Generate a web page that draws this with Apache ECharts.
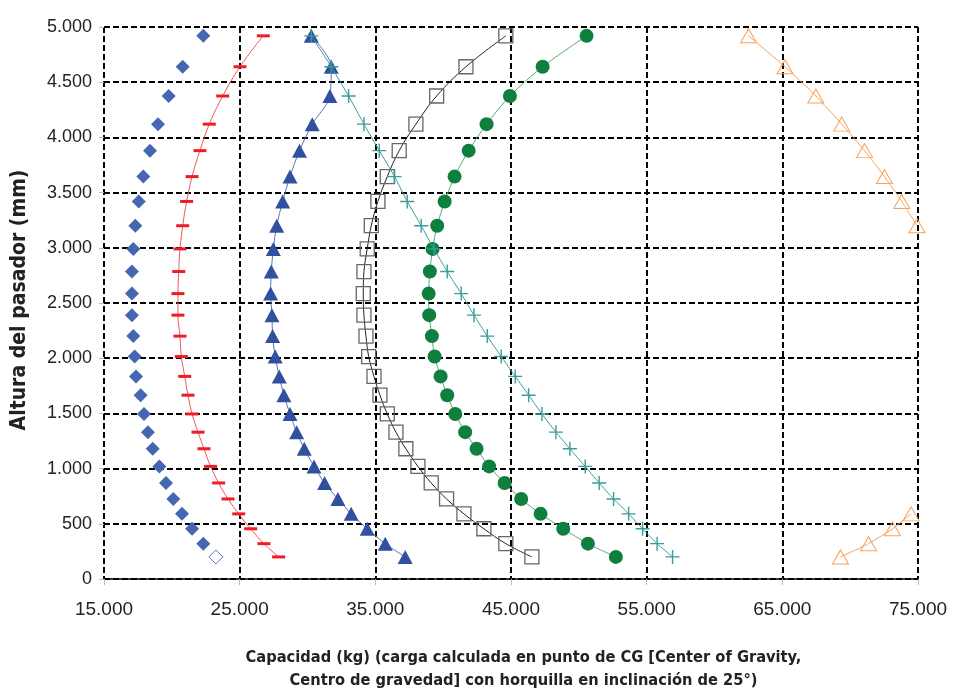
<!DOCTYPE html>
<html>
<head>
<meta charset="utf-8">
<script src="https://cdn.jsdelivr.net/npm/echarts@6/dist/echarts.min.js"></script>
<style>
html,body{margin:0;padding:0;background:#fff;}
#chart{width:962px;height:690px;}
</style>
</head>
<body>
<div id="chart"></div>
<script>
// Heights (mm), bottom to top
const heights = [200, 320, 455, 590, 725, 870, 1020, 1180, 1330, 1495, 1665, 1835, 2015, 2200, 2390, 2585, 2785, 2990, 3200, 3420, 3645, 3880, 4120, 4375, 4640, 4920];

// Capacities (kg) per series, same order as heights
const diamondSeries = [23250, 22320, 21490, 20750, 20110, 19570, 19080, 18590, 18240, 17950, 17700, 17360, 17260, 17160, 17060, 17060, 17060, 17160, 17310, 17560, 17900, 18390, 18980, 19770, 20800, 22320];
const dashSeries = [27870, 26790, 25810, 24930, 24140, 23450, 22860, 22370, 21930, 21490, 21190, 20950, 20700, 20600, 20450, 20450, 20510, 20600, 20800, 21090, 21490, 22070, 22760, 23750, 25020, 26740];
const triangleSeries = [37200, 35730, 34400, 33220, 32240, 31260, 30480, 29760, 29200, 28710, 28260, 27920, 27620, 27430, 27380, 27280, 27330, 27480, 27730, 28170, 28710, 29410, 30350, 31650, 31750, 30280];
const squareSeries = [46540, 44620, 43000, 41530, 40250, 39120, 38140, 37250, 36520, 35880, 35340, 34900, 34510, 34310, 34160, 34110, 34160, 34400, 34700, 35190, 35880, 36760, 37990, 39520, 41680, 44620];
const circleSeries = [52730, 50670, 48850, 47180, 45750, 44530, 43390, 42460, 41620, 40890, 40300, 39810, 39370, 39170, 38970, 38930, 39020, 39220, 39560, 40110, 40840, 41880, 43200, 44920, 47330, 50570];
const plusSeries = [56910, 55770, 54700, 53670, 52560, 51500, 50470, 49340, 48310, 47280, 46300, 45310, 44280, 43250, 42270, 41330, 40300, 39320, 38380, 37350, 36420, 35290, 34160, 33030, 31750, 30280];
// points beyond the 75.000 axis limit are not visible in the picture
const openTriangleSeries = [69290, 71350, 73120, 74490, null, null, null, null, null, null, null, null, null, null, null, null, null, null, 74930, 73800, 72530, 71060, 69380, 67470, 65200, 62510];

const xTicks = { min: 15000, max: 75000, interval: 10000 };
const yTicks = { min: 0, max: 5000, interval: 500 };

function pairs(xs) {
  return xs.map((x, i) => [x == null ? '-' : x, heights[i]]);
}
function fmt(v) {
  const s = String(Math.round(v));
  return s.replace(/\B(?=(\d{3})+(?!\d))/g, '.');
}

const chart = echarts.init(document.getElementById('chart'), null, { renderer: 'canvas' });

const gridLine = { show: true, lineStyle: { color: '#000', width: 2, type: [6, 3] } };
const labelFont = "'Liberation Sans', Arial, sans-serif";
const titleFont = "'DejaVu Sans Condensed', 'Liberation Sans', sans-serif";

const diamondData = pairs(diamondSeries).map((p, i) => i === 0 ? {
  value: p,
  itemStyle: { color: 'rgba(255,255,255,0)', borderColor: '#5a78c0', borderWidth: 1 }
} : p);

const option = {
  animation: false,
  backgroundColor: '#fff',
  grid: { left: 104, right: 44, top: 27, bottom: 111, containLabel: false, outerBoundsMode: 'none' },
  xAxis: {
    type: 'value',
    min: xTicks.min, max: xTicks.max, interval: xTicks.interval,
    axisLine: { show: true, onZero: false, lineStyle: { color: '#000', width: 1.5 } },
    axisTick: { show: true, length: 6, lineStyle: { color: '#bbb', width: 1 } },
    axisLabel: { formatter: fmt, fontFamily: labelFont, fontSize: 19, color: '#222', margin: 21 },
    splitLine: gridLine,
    name: 'Capacidad (kg) (carga calculada en punto de CG [Center of Gravity,\nCentro de gravedad] con horquilla en inclinación de 25°)',
    nameLocation: 'middle',
    nameGap: 67,
    nameTextStyle: {
      fontFamily: titleFont,
      fontWeight: 'bold', fontSize: 16.3, color: '#222', lineHeight: 23,
      align: 'center', padding: [0, 0, 0, 25]
    }
  },
  yAxis: {
    type: 'value',
    min: yTicks.min, max: yTicks.max, interval: yTicks.interval,
    axisLine: { show: false },
    axisTick: { show: true, length: 5, lineStyle: { color: '#bbb', width: 1 } },
    axisLabel: { formatter: fmt, fontFamily: labelFont, fontSize: 18, color: '#222', margin: 12 },
    splitLine: gridLine,
    name: 'Altura del pasador (mm)',
    nameLocation: 'middle',
    nameGap: 74,
    nameRotate: 90,
    nameTextStyle: { fontFamily: titleFont, fontWeight: 'bold', fontSize: 21, color: '#222', padding: [0, 0, 0, 6] }
  },
  series: [
    {
      type: 'scatter', name: 'diamantes',
      data: diamondData,
      symbol: 'diamond', symbolSize: 14,
      itemStyle: { color: '#4567b1', opacity: 1 },
      z: 3
    },
    {
      type: 'line', name: 'guiones',
      data: pairs(dashSeries), smooth: 0.4,
      symbol: 'rect', symbolSize: [13, 3], showAllSymbol: true,
      itemStyle: { color: '#ee1c25' },
      lineStyle: { color: '#f2545a', width: 1 },
      z: 3
    },
    {
      type: 'line', name: 'triangulos',
      data: pairs(triangleSeries), smooth: 0.3,
      symbol: 'triangle', symbolSize: [15, 14], showAllSymbol: true,
      itemStyle: { color: '#31509f' },
      lineStyle: { color: '#5a74b8', width: 1 },
      z: 3
    },
    {
      type: 'line', name: 'cuadrados',
      data: pairs(squareSeries), smooth: 0.4,
      symbol: 'rect', symbolSize: 14, showAllSymbol: true,
      itemStyle: { color: 'rgba(255,255,255,0)', borderColor: '#666', borderWidth: 1.3 },
      lineStyle: { color: '#222', width: 1 },
      z: 3
    },
    {
      type: 'line', name: 'circulos',
      data: pairs(circleSeries), smooth: 0.3,
      symbol: 'circle', symbolSize: 14, showAllSymbol: true,
      itemStyle: { color: '#0f7f40' },
      lineStyle: { color: '#5ca97c', width: 1 },
      z: 3
    },
    {
      type: 'line', name: 'cruces',
      data: pairs(plusSeries), smooth: 0.2,
      symbol: 'path://M4.5,0 h1 v4.5 h4.5 v1 h-4.5 v4.5 h-1 v-4.5 h-4.5 v-1 h4.5 z',
      symbolSize: 14, showAllSymbol: true,
      itemStyle: { color: '#3a9c9c' },
      lineStyle: { color: '#3a9c9c', width: 1 },
      z: 4
    },
    {
      type: 'line', name: 'triangulos abiertos',
      data: pairs(openTriangleSeries), smooth: 0.2, connectNulls: false,
      symbol: 'triangle', symbolSize: [16, 14], showAllSymbol: true,
      itemStyle: { color: 'rgba(255,255,255,0)', borderColor: '#f7a35a', borderWidth: 1 },
      lineStyle: { color: '#f7a35a', width: 1 },
      clip: true,
      z: 3
    }
  ]
};
chart.setOption(option);
</script>
</body>
</html>
